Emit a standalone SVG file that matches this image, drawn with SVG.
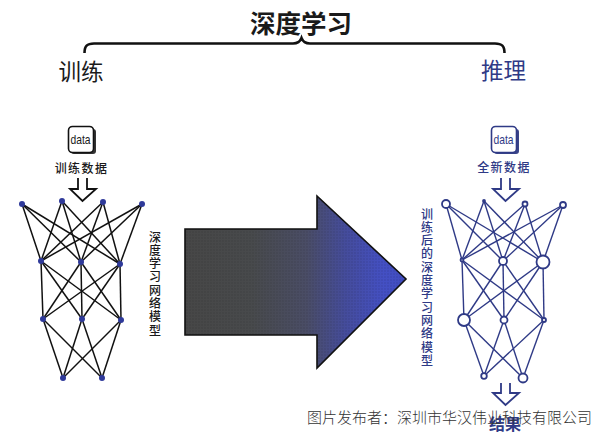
<svg xmlns="http://www.w3.org/2000/svg" width="600" height="433" viewBox="0 0 600 433">
  <style>
    text { font-family: "Noto Sans CJK SC", "Liberation Sans", sans-serif; text-anchor: middle; }
    .ink { fill: #1a1a1a; }
    .navy { fill: #2f3a86; }
    .vert { writing-mode: vertical-rl; font-size: 12px; letter-spacing: 1.3px; text-anchor: start; font-weight: 500; }
    .data { font-family: "Liberation Sans", sans-serif; font-size: 13px; }
    .label { font-size: 12px; font-weight: 500; letter-spacing: 1.400px; }
    .edgesL line { stroke: #111; stroke-width: 1.5; }
    .edgesR line { stroke: #2f3a86; stroke-width: 1.4; }
    .nodeL { fill: #2f3a9a; }
    .nodeR { fill: #fff; stroke: #2f3a86; stroke-width: 1.8; }
    .hollow { fill: #fff; stroke-width: 1.8; stroke-linejoin: miter; }
  </style>
  <defs>
    <linearGradient id="shade" gradientUnits="userSpaceOnUse" x1="185" y1="0" x2="406" y2="0">
      <stop offset="0" stop-color="#474747"/>
      <stop offset="0.3" stop-color="#484a4c"/>
      <stop offset="0.55" stop-color="#4a4d66"/>
      <stop offset="0.72" stop-color="#454c9a"/>
      <stop offset="0.9" stop-color="#4450c4"/>
      <stop offset="1" stop-color="#414dc0"/>
    </linearGradient>
    <pattern id="dots" width="3" height="3" patternUnits="userSpaceOnUse">
      <circle cx="1" cy="1" r="0.7" fill="#000" opacity="0.16"/>
    </pattern>
  </defs>

  <g id="title">
    <text x="301" y="33" font-size="25.500" font-weight="700" class="ink">深度学习</text>
    <path d="M84.500 53 C84.500 46 87 43.500 94 43.500 L293 43.500 C297 43.500 300 42 301.500 38 C303 42 306 43.500 310 43.500 L495 43.500 C502 43.500 504.500 46 504.500 53" fill="none" stroke="#111" stroke-width="2.600"/>
    <text x="81" y="80" font-size="22.500" class="ink">训练</text>
    <text x="503.500" y="79" font-size="22.500" class="navy">推理</text>
  </g>

  <g id="big-arrow">
    <path d="M185 229 H317 V196 L406 279 L317 368 V335 H185 Z" fill="url(#shade)"/>
    <path d="M185 229 H317 V196 L406 279 L317 368 V335 H185 Z" fill="url(#dots)" stroke="#111" stroke-width="1.600"/>
  </g>

  <g id="connectors">
    <g class="edgesL">
      <line x1="22" y1="204" x2="41" y2="261"/><line x1="22" y1="204" x2="81" y2="262"/><line x1="22" y1="204" x2="120" y2="264"/>
      <line x1="62" y1="201" x2="41" y2="261"/><line x1="62" y1="201" x2="81" y2="262"/><line x1="62" y1="201" x2="120" y2="264"/>
      <line x1="103" y1="202" x2="41" y2="261"/><line x1="103" y1="202" x2="81" y2="262"/><line x1="103" y1="202" x2="120" y2="264"/>
      <line x1="142" y1="204" x2="41" y2="261"/><line x1="142" y1="204" x2="81" y2="262"/><line x1="142" y1="204" x2="120" y2="264"/>
      <line x1="41" y1="261" x2="43" y2="319"/><line x1="41" y1="261" x2="82" y2="319"/><line x1="41" y1="261" x2="121" y2="320"/>
      <line x1="81" y1="262" x2="43" y2="319"/><line x1="81" y1="262" x2="82" y2="319"/><line x1="81" y1="262" x2="121" y2="320"/>
      <line x1="120" y1="264" x2="43" y2="319"/><line x1="120" y1="264" x2="82" y2="319"/><line x1="120" y1="264" x2="121" y2="320"/>
      <line x1="43" y1="319" x2="63" y2="378"/><line x1="43" y1="319" x2="102" y2="378"/>
      <line x1="82" y1="319" x2="63" y2="378"/><line x1="82" y1="319" x2="102" y2="378"/>
      <line x1="121" y1="320" x2="63" y2="378"/><line x1="121" y1="320" x2="102" y2="378"/>
    </g>
    <g class="edgesR">
      <line x1="446" y1="204" x2="462" y2="260"/><line x1="446" y1="204" x2="503" y2="261"/><line x1="446" y1="204" x2="543" y2="262"/>
      <line x1="484" y1="201" x2="462" y2="260"/><line x1="484" y1="201" x2="503" y2="261"/><line x1="484" y1="201" x2="543" y2="262"/>
      <line x1="525" y1="204" x2="462" y2="260"/><line x1="525" y1="204" x2="503" y2="261"/><line x1="525" y1="204" x2="543" y2="262"/>
      <line x1="563" y1="205" x2="462" y2="260"/><line x1="563" y1="205" x2="503" y2="261"/><line x1="563" y1="205" x2="543" y2="262"/>
      <line x1="462" y1="260" x2="464" y2="320"/><line x1="462" y1="260" x2="504" y2="320"/><line x1="462" y1="260" x2="544" y2="320"/>
      <line x1="503" y1="261" x2="464" y2="320"/><line x1="503" y1="261" x2="504" y2="320"/><line x1="503" y1="261" x2="544" y2="320"/>
      <line x1="543" y1="262" x2="464" y2="320"/><line x1="543" y1="262" x2="504" y2="320"/><line x1="543" y1="262" x2="544" y2="320"/>
      <line x1="464" y1="320" x2="484" y2="376"/><line x1="464" y1="320" x2="523" y2="378"/>
      <line x1="504" y1="320" x2="484" y2="376"/><line x1="504" y1="320" x2="523" y2="378"/>
      <line x1="544" y1="320" x2="484" y2="376"/><line x1="544" y1="320" x2="523" y2="378"/>
    </g>
    <path class="hollow" stroke="#111" d="M78 178 V189 H70 L82.500 201 L96 189 H87 V178"/>
    <path class="hollow" stroke="#2f3a86" d="M501 178 V189 H493 L505.500 201 L519 189 H510 V178"/>
    <path class="hollow" stroke="#2f3a86" d="M501 383 V393 H493 L505.500 405 L519 393 H510 V383"/>
  </g>

  <g id="train-input">
    <rect x="71" y="129" width="25" height="25" rx="3" fill="#333"/>
    <rect x="68.500" y="126.500" width="25" height="26" rx="4" fill="#fff" stroke="#111" stroke-width="1.600"/>
    <text x="80.500" y="144" class="data ink" textLength="20" lengthAdjust="spacingAndGlyphs">data</text>
    <text x="81.500" y="173" class="label ink">训练数据</text>
  </g>
  <g id="new-input">
    <rect x="494" y="129" width="25" height="25" rx="3" fill="#3a4488"/>
    <rect x="491.500" y="126.500" width="25" height="26" rx="4" fill="#fff" stroke="#2f3a86" stroke-width="1.600"/>
    <text x="503.500" y="144" class="data navy" textLength="20" lengthAdjust="spacingAndGlyphs">data</text>
    <text x="504" y="172" class="label navy">全新数据</text>
  </g>

  <g id="train-network">
    <circle class="nodeL" cx="22" cy="204" r="3"/><circle class="nodeL" cx="62" cy="201" r="3"/><circle class="nodeL" cx="103" cy="202" r="3"/><circle class="nodeL" cx="142" cy="204" r="3"/>
    <circle class="nodeL" cx="41" cy="261" r="3"/><circle class="nodeL" cx="81" cy="262" r="3"/><circle class="nodeL" cx="120" cy="264" r="3"/>
    <circle class="nodeL" cx="43" cy="319" r="3"/><circle class="nodeL" cx="82" cy="319" r="3"/><circle class="nodeL" cx="121" cy="320" r="3"/>
    <circle class="nodeL" cx="63" cy="378" r="3"/><circle class="nodeL" cx="102" cy="378" r="3"/>
    <text x="155" y="231" class="vert ink">深度学习网络模型</text>
  </g>

  <g id="trained-network">
    <circle class="nodeR" cx="446" cy="204" r="4"/><circle class="nodeR" cx="484" cy="201" r="1"/><circle class="nodeR" cx="525" cy="204" r="2.500"/><circle class="nodeR" cx="563" cy="205" r="3"/>
    <circle class="nodeR" cx="462" cy="260" r="1.500"/><circle class="nodeR" cx="503" cy="261" r="4"/><circle class="nodeR" cx="543" cy="262" r="6.500"/>
    <circle class="nodeR" cx="464" cy="320" r="6"/><circle class="nodeR" cx="504" cy="320" r="3.500"/><circle class="nodeR" cx="544" cy="320" r="2"/>
    <circle class="nodeR" cx="484" cy="376" r="2.800"/><circle class="nodeR" cx="523" cy="378" r="4.500"/>
    <text x="427" y="208" class="vert navy">训练后的深度学习网络模型</text>
  </g>

  <g id="result">
    <text x="505" y="430" font-size="16" font-weight="700" class="navy">结果</text>
  </g>

  <g id="credit">
    <text x="449.500" y="423" font-size="15" font-weight="300" fill="#333">图片发布者：深圳市华汉伟业科技有限公司</text>
  </g>
</svg>
